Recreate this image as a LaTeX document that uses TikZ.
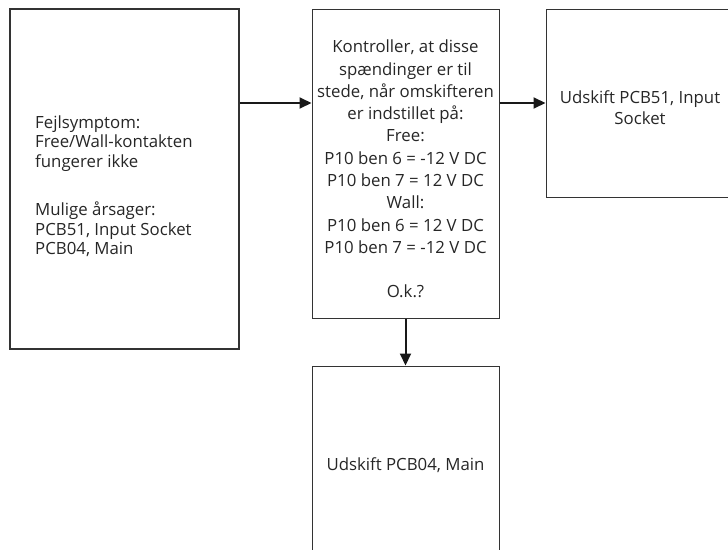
\documentclass[tikz,border=0pt]{standalone}
\usepackage{fontspec}
\setmainfont{Open Sans}
\usetikzlibrary{arrows.meta}
\begin{document}
\begin{tikzpicture}[x=1pt,y=-1pt,
  box/.style={draw=black!80, line width=1pt, inner sep=0pt},
  txt/.style={text=black!85, inner sep=0pt, font=\fontsize{16.8}{19.5}\selectfont},
  arr/.style={line width=2pt, draw=black!90, -{Triangle[length=12pt,width=11pt]}}]
\clip (0,0) rectangle (728,549);
\useasboundingbox (0,0) rectangle (728,549);
% boxes
\node[box, line width=2pt, minimum width=229pt, minimum height=340pt] (sym) at (124.5,179) {};
\node[txt, align=left, anchor=west] (symtext) at (35,186) {Fejlsymptom:\\Free/Wall-kontakten\\fungerer ikke\\[29pt]Mulige årsager:\\PCB51, Input Socket\\PCB04, Main};
\node[box, minimum width=187pt, minimum height=309pt] (chk) at (405.5,163.5) {};
\node[txt, align=center, font=\fontsize{16.8}{22.3}\selectfont] (chktext) at (405.5,169) {Kontroller, at disse\\spændinger er til\\stede, når omskifteren\\er indstillet på:\\Free:\\P10 ben 6 = -12 V DC\\P10 ben 7 = 12 V DC\\Wall:\\P10 ben 6 = 12 V DC\\P10 ben 7 = -12 V DC\\[22pt]O.k.?};
\node[box, minimum width=188pt, minimum height=188pt] (pcb51) at (640,103) {};
\node[txt, align=center, font=\fontsize{16.8}{21}\selectfont] (pcb51text) at (640,108) {Udskift PCB51, Input\\Socket};
\node[box, minimum width=187pt, minimum height=198pt, txt] (pcb04) at (405.5,465) {Udskift PCB04, Main};
% arrows
\draw[arr] (sym.east |- 0,103) -- (chk.west |- 0,103);
\draw[arr] (chk.east |- 0,103) -- (pcb51.west |- 0,103);
\draw[arr] (chk.south) -- (pcb04.north);
\end{tikzpicture}
\end{document}
